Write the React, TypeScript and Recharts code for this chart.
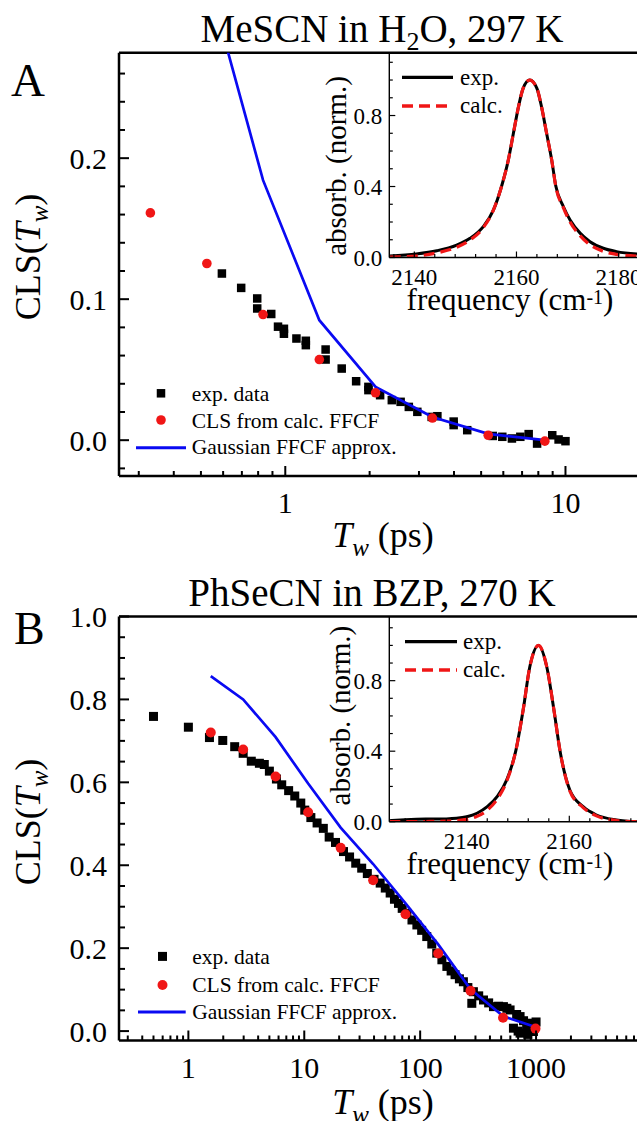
import React from 'react';
import { ComposedChart, Line, Scatter, XAxis, YAxis, ReferenceLine, Legend } from 'recharts';

const FONT = '"Liberation Serif", "Times New Roman", Times, serif';
const BLUE = '#0a0af2';
const RED = '#f01616';

// ---------- Panel A : MeSCN in H2O ----------
const A_EXP_T = [0.594, 0.696, 0.794, 0.794, 0.891, 0.942, 0.989, 0.989, 1.096, 1.184, 1.184, 1.393, 1.393, 1.59, 1.79, 1.98, 1.98, 2.18, 2.4, 2.58, 2.76, 2.96, 3.33, 3.49, 3.99, 3.99, 4.46, 5.5, 5.95, 6.44, 6.9, 7.39, 7.92, 8.97, 9.45, 10.0];
const A_EXP_CLS = [0.1182, 0.108, 0.1005, 0.0934, 0.0895, 0.0805, 0.079, 0.0755, 0.0721, 0.0705, 0.0674, 0.0643, 0.0572, 0.0508, 0.0418, 0.0378, 0.0355, 0.0319, 0.0284, 0.0272, 0.0236, 0.0201, 0.0165, 0.017, 0.0132, 0.0107, 0.0071, 0.003, 0.0024, 0.0012, 0.0024, 0.0043, -0.0024, 0.0035, 0.0005, -0.0007];
const A_CALC_T = [0.33, 0.525, 0.833, 1.323, 2.1, 3.35, 5.3, 8.44];
const A_CALC_CLS = [0.1612, 0.1253, 0.0891, 0.0572, 0.0336, 0.0157, 0.0035, -0.0007];
const A_GAUSS_T = [0.33, 0.525, 0.833, 1.323, 2.1, 3.35, 5.3, 8.44];
const A_GAUSS_CLS = [0.52, 0.33, 0.1844, 0.0851, 0.0378, 0.0165, 0.0045, 0.0];

const A_X_TICKS = [0.3, 0.4, 0.5, 0.6, 0.7, 0.8, 0.9, 1, 2, 3, 4, 5, 6, 7, 8, 9, 10];
const A_X_MAJOR = [1, 10];
const A_Y_TICKS = [-0.02, 0, 0.02, 0.04, 0.06, 0.08, 0.1, 0.12, 0.14, 0.16, 0.18, 0.2, 0.22, 0.24, 0.26];
const A_Y_MAJOR = [0, 0.1, 0.2];

const A_FREQ = [2135.2, 2140.4, 2144.4, 2148.3, 2150.9, 2153.5, 2155.5, 2157.1, 2158.4, 2159.4, 2160.4, 2161.3, 2162.6, 2164.0, 2164.9, 2165.9, 2166.9, 2167.7, 2169.2, 2170.5, 2172.5, 2174.4, 2177.0, 2179.6, 2183.6];
const A_ABS_EXP = [0.008, 0.02, 0.038, 0.07, 0.108, 0.174, 0.268, 0.403, 0.549, 0.7, 0.85, 0.953, 1.0, 0.953, 0.85, 0.7, 0.549, 0.403, 0.286, 0.211, 0.136, 0.089, 0.052, 0.033, 0.02];
const A_ABS_CALC = [0.002, 0.008, 0.026, 0.058, 0.098, 0.168, 0.268, 0.403, 0.549, 0.7, 0.85, 0.953, 1.0, 0.953, 0.85, 0.7, 0.549, 0.4, 0.28, 0.2, 0.122, 0.072, 0.035, 0.018, 0.008];
const A_IN_X_TICKS = [2136, 2140, 2144, 2148, 2152, 2156, 2160, 2164, 2168, 2172, 2176, 2180];
const A_IN_X_MAJOR = [2140, 2160, 2180];

// ---------- Panel B : PhSeCN in BZP ----------
const B_EXP_T = [0.5, 1.0, 1.52, 1.98, 2.51, 2.97, 3.49, 4.1, 4.52, 5.0, 5.75, 6.39, 7.33, 8.28, 9.33, 10.1, 11.4, 12.9, 14.6, 16.4, 18.6, 21.8, 24.6, 27.8, 31.3, 35, 40, 45.2, 50, 55.1, 60, 65, 70, 76.8, 85, 93.7, 103, 114, 126, 139, 154, 170, 185, 200, 218, 236, 258, 279, 288, 320, 352, 390, 429, 475, 523, 560, 597, 638, 680, 700, 728, 728, 780, 830, 850, 889, 949, 1000];
const B_EXP_CLS = [0.759, 0.733, 0.708, 0.701, 0.686, 0.67, 0.651, 0.646, 0.643, 0.627, 0.608, 0.594, 0.58, 0.567, 0.55, 0.533, 0.515, 0.502, 0.489, 0.468, 0.455, 0.433, 0.42, 0.405, 0.393, 0.38, 0.366, 0.357, 0.345, 0.333, 0.318, 0.308, 0.296, 0.284, 0.268, 0.256, 0.243, 0.228, 0.21, 0.188, 0.172, 0.156, 0.145, 0.136, 0.126, 0.119, 0.105, 0.067, 0.095, 0.085, 0.075, 0.068, 0.059, 0.06, 0.059, 0.055, 0.051, 0.007, 0.04, 0.0, 0.035, -0.005, 0.025, 0.01, -0.008, 0.019, -0.001, 0.022];
const B_CALC_T = [1.56, 2.97, 5.66, 10.8, 20.6, 39.3, 74.8, 143, 272, 519, 989];
const B_CALC_CLS = [0.72, 0.679, 0.614, 0.528, 0.442, 0.364, 0.282, 0.187, 0.097, 0.032, 0.006];
const B_GAUSS_T = [1.56, 2.97, 5.66, 10.8, 20.6, 39.3, 74.8, 143, 272, 519, 989];
const B_GAUSS_CLS = [0.856, 0.8, 0.709, 0.597, 0.491, 0.403, 0.308, 0.209, 0.101, 0.036, 0.01];

const B_X_TICKS = [0.3, 0.4, 0.5, 0.6, 0.7, 0.8, 0.9, 1, 2, 3, 4, 5, 6, 7, 8, 9, 10, 20, 30, 40, 50, 60, 70, 80, 90, 100, 200, 300, 400, 500, 600, 700, 800, 900, 1000, 2000, 3000, 4000, 5000, 6000, 7000];
const B_X_MAJOR = [1, 10, 100, 1000];
const B_Y_TICKS = [0, 0.05, 0.1, 0.15, 0.2, 0.25, 0.3, 0.35, 0.4, 0.45, 0.5, 0.55, 0.6, 0.65, 0.7, 0.75, 0.8, 0.85, 0.9, 0.95, 1.0];
const B_Y_MAJOR = [0, 0.2, 0.4, 0.6, 0.8, 1.0];

const B_FREQ = [2124.9, 2128, 2132, 2136, 2138, 2140, 2142, 2144, 2146, 2147.8, 2149.55, 2151.0, 2152.3, 2154.0, 2155.6, 2157.0, 2158.2, 2160.1, 2162.7, 2165.3, 2169.2, 2173.2];
const B_ABS_EXP = [0.006, 0.011, 0.015, 0.016, 0.019, 0.028, 0.048, 0.085, 0.145, 0.237, 0.4, 0.634, 0.879, 1.0, 0.879, 0.634, 0.4, 0.18, 0.085, 0.038, 0.01, 0.0];
const B_ABS_CALC = [0.0, 0.0, 0.001, 0.003, 0.006, 0.013, 0.03, 0.065, 0.13, 0.23, 0.4, 0.634, 0.879, 1.0, 0.879, 0.634, 0.4, 0.175, 0.08, 0.033, 0.007, 0.0];
const B_IN_X_TICKS = [2128, 2132, 2136, 2140, 2144, 2148, 2152, 2156, 2160, 2164, 2168, 2172];
const B_IN_X_MAJOR = [2140, 2160];

const IN_Y_TICKS = [0, 0.1, 0.2, 0.3, 0.4, 0.5, 0.6, 0.7, 0.8, 0.9, 1.0, 1.1];
const IN_Y_MAJOR = [0, 0.4, 0.8];

const MAIN_LEGEND = ['exp. data', 'CLS from calc. FFCF', 'Gaussian FFCF approx.'];
const INSET_LEGEND = ['exp.', 'calc.'];

type Pt = { x: number; y: number };
const zip = (xs: number[], ys: number[]): Pt[] => xs.map((x, i) => ({ x, y: ys[i] }));

const xTick = (majors: number[], fmt: (v: number) => string, majLen: number, minLen: number, sw: number, fs: number, dy: number) => (p: any) => {
  const { x, y, payload } = p;
  const v = payload.value;
  const major = majors.indexOf(v) >= 0;
  return (
    <g>
      <line x1={x} x2={x} y1={y} y2={y - (major ? majLen : minLen)} stroke="#000" strokeWidth={sw} />
      {major && (
        <text x={x} y={y + dy} textAnchor="middle" fontFamily={FONT} fontSize={fs} fill="#000">{fmt(v)}</text>
      )}
    </g>
  );
};

const yTick = (majors: number[], fmt: (v: number) => string, majLen: number, minLen: number, sw: number, fs: number, gap: number) => (p: any) => {
  const { x, y, payload } = p;
  const v = payload.value;
  const major = majors.indexOf(v) >= 0;
  return (
    <g>
      <line x1={x} x2={x + (major ? majLen : minLen)} y1={y} y2={y} stroke="#000" strokeWidth={sw} />
      {major && (
        <text x={x - gap} y={y} dy="0.35em" textAnchor="end" fontFamily={FONT} fontSize={fs} fill="#000">{fmt(v)}</text>
      )}
    </g>
  );
};

const squareShape = (s: number) => (p: any) => {
  if (p.cx == null || p.cy == null) return <g />;
  return <rect x={p.cx - s / 2} y={p.cy - s / 2} width={s} height={s} fill="#000" />;
};
const circleShape = (r: number) => (p: any) => {
  if (p.cx == null || p.cy == null) return <g />;
  return <circle cx={p.cx} cy={p.cy} r={r} fill={RED} />;
};

type LegPos = { sqX: number; sqY: number; circY: number; lx1: number; lx2: number; ly: number; tx: number; b: number[]; sq: number; r: number };
const mainLegend = (pos: LegPos, w: number, h: number) => () => (
  <svg width={w} height={h} style={{ position: 'absolute', left: 0, top: 0, overflow: 'visible' }}>
    <rect x={pos.sqX - pos.sq / 2} y={pos.sqY - pos.sq / 2} width={pos.sq} height={pos.sq} fill="#000" />
    <circle cx={pos.sqX} cy={pos.circY} r={pos.r} fill={RED} />
    <line x1={pos.lx1} x2={pos.lx2} y1={pos.ly} y2={pos.ly} stroke={BLUE} strokeWidth={3} />
    {MAIN_LEGEND.map((t, i) => (
      <text key={t} x={pos.tx} y={pos.b[i]} fontFamily={FONT} fontSize={21.5} fill="#000">{t}</text>
    ))}
  </svg>
);

type InLegPos = { lx1: number; lx2: number; y1: number; y2: number; tx: number; b1: number; b2: number };
const insetLegend = (pos: InLegPos, w: number, h: number) => () => (
  <svg width={w} height={h} style={{ position: 'absolute', left: 0, top: 0, overflow: 'visible' }}>
    <line x1={pos.lx1} x2={pos.lx2} y1={pos.y1} y2={pos.y1} stroke="#000" strokeWidth={3.2} />
    <line x1={pos.lx1} x2={pos.lx2} y1={pos.y2} y2={pos.y2} stroke={RED} strokeWidth={3.4} strokeDasharray="11 6" />
    <text x={pos.tx} y={pos.b1} fontFamily={FONT} fontSize={23} fill="#000">{INSET_LEGEND[0]}</text>
    <text x={pos.tx} y={pos.b2} fontFamily={FONT} fontSize={23} fill="#000">{INSET_LEGEND[1]}</text>
  </svg>
);

type PanelProps = {
  top: number; height: number;
  mTop: number; mBottom: number;
  xDomain: [number, number]; yDomain: [number, number];
  xTicks: number[]; xMajor: number[]; yTicks: number[]; yMajor: number[];
  exp: Pt[]; calc: Pt[]; gauss: Pt[]; sq: number; r: number;
  leg: LegPos;
  iTop: number; iBottom: number; iXDomain: [number, number]; iYDomain: [number, number];
  iXTicks: number[]; iXMajor: number[]; absExp: Pt[]; absCalc: Pt[]; iLeg: InLegPos;
  children?: React.ReactNode;
};

const Panel = (p: PanelProps) => {
  const W = 637;
  const axisMain = { stroke: '#000', strokeWidth: 2.5 };
  const axisIn = { stroke: '#000', strokeWidth: 1.4 };
  return (
    <div style={{ position: 'absolute', left: 0, top: p.top, width: W, height: p.height }}>
      <div style={{ position: 'absolute', left: 0, top: 0 }}>
        <ComposedChart width={W} height={p.height} margin={{ top: p.mTop, right: 0, bottom: p.mBottom, left: 59 }}>
          <XAxis dataKey="x" type="number" scale="log" domain={p.xDomain} allowDataOverflow ticks={p.xTicks} interval={0}
            tickSize={0} tickMargin={0} tickLine={false} axisLine={axisMain} height={40}
            tick={xTick(p.xMajor, (v) => String(v), 10, 5, 2, 30, 37)} />
          <YAxis dataKey="y" type="number" domain={p.yDomain} allowDataOverflow ticks={p.yTicks} interval={0}
            tickSize={0} tickMargin={0} tickLine={false} axisLine={axisMain} width={60}
            tick={yTick(p.yMajor, (v) => v.toFixed(1), 10, 6, 2, 30, 12)} />
          <ReferenceLine y={p.yDomain[1]} stroke="#000" strokeWidth={2.5} />
          <Scatter data={p.exp} shape={squareShape(p.sq)} isAnimationActive={false} zIndex={500} />
          <Line data={p.gauss} dataKey="y" type="linear" stroke={BLUE} strokeWidth={2.7} dot={false} isAnimationActive={false} zIndex={550} />
          <Scatter data={p.calc} shape={circleShape(p.r)} isAnimationActive={false} zIndex={600} />
          <Legend layout="horizontal" verticalAlign="middle" align="center" content={mainLegend(p.leg, W, p.height)}
            wrapperStyle={{ position: 'absolute', left: 0, top: 0, width: W, height: p.height }} />
        </ComposedChart>
      </div>
      <div style={{ position: 'absolute', left: 0, top: 0 }}>
        <ComposedChart width={W} height={300} margin={{ top: p.iTop, right: 0, bottom: 300 - 30 - p.iBottom, left: 349.3 }}>
          <XAxis dataKey="x" type="number" domain={p.iXDomain} allowDataOverflow ticks={p.iXTicks} interval={0}
            tickSize={0} tickMargin={0} tickLine={false} axisLine={axisIn} height={30}
            tick={xTick(p.iXMajor, (v) => String(v), 6, 3.5, 1.2, 23, 27)} />
          <YAxis dataKey="y" type="number" domain={p.iYDomain} allowDataOverflow ticks={IN_Y_TICKS} interval={0}
            tickSize={0} tickMargin={0} tickLine={false} axisLine={axisIn} width={40}
            tick={yTick(IN_Y_MAJOR, (v) => v.toFixed(1), 6, 3.5, 1.2, 23, 7)} />
          <Line data={p.absExp} dataKey="y" type="monotone" stroke="#000" strokeWidth={3} dot={false} isAnimationActive={false} />
          <Line data={p.absCalc} dataKey="y" type="monotone" stroke={RED} strokeWidth={3.2} strokeDasharray="11 6" dot={false} isAnimationActive={false} />
          <Legend layout="horizontal" verticalAlign="middle" align="center" content={insetLegend(p.iLeg, W, 300)}
            wrapperStyle={{ position: 'absolute', left: 0, top: 0, width: W, height: 300 }} />
        </ComposedChart>
      </div>
      <svg width={W} height={p.height} style={{ position: 'absolute', left: 0, top: 0, pointerEvents: 'none' }}>
        {p.children}
      </svg>
    </div>
  );
};

export default function App() {
  return (
    <div style={{ position: 'absolute', left: 0, top: 0, width: 637, height: 1121, background: '#fff', overflow: 'hidden' }}>
      <Panel
        top={0} height={560} mTop={52.7} mBottom={44}
        xDomain={[0.255, 18]} yDomain={[-0.0254, 0.2748]}
        xTicks={A_X_TICKS} xMajor={A_X_MAJOR} yTicks={A_Y_TICKS} yMajor={A_Y_MAJOR}
        exp={zip(A_EXP_T, A_EXP_CLS)} calc={zip(A_CALC_T, A_CALC_CLS)} gauss={zip(A_GAUSS_T, A_GAUSS_CLS)} sq={8.5} r={4.8}
        leg={{ sqX: 161, sqY: 393.3, circY: 420, lx1: 136, lx2: 186, ly: 447.7, tx: 191.7, b: [400.7, 427.7, 454.3], sq: 8.5, r: 4.8 }}
        iTop={52.7} iBottom={257.5} iXDomain={[2135.1, 2183.6]} iYDomain={[0, 1.154]}
        iXTicks={A_IN_X_TICKS} iXMajor={A_IN_X_MAJOR} absExp={zip(A_FREQ, A_ABS_EXP)} absCalc={zip(A_FREQ, A_ABS_CALC)}
        iLeg={{ lx1: 402, lx2: 453, y1: 77.3, y2: 106, tx: 460, b1: 85, b2: 113.3 }}
      >
        <text x={382} y={42} textAnchor="middle" fontFamily={FONT} fontSize={39} fill="#000">
          MeSCN in H<tspan fontSize={26} dy={8}>2</tspan><tspan dy={-8}>O, 297 K</tspan>
        </text>
        <text x={11} y={96.4} fontFamily={FONT} fontSize={47} fill="#000">A</text>
        <text transform="translate(40,257) rotate(-90)" textAnchor="middle" fontFamily={FONT} fontSize={36} fill="#000">
          CLS(<tspan fontStyle="italic">T</tspan><tspan fontStyle="italic" fontSize={25} dy={8}>w</tspan><tspan dy={-8}>)</tspan>
        </text>
        <text x={383} y={547} textAnchor="middle" fontFamily={FONT} fontSize={36} fill="#000">
          <tspan fontStyle="italic">T</tspan><tspan fontStyle="italic" fontSize={25} dy={9}>w</tspan><tspan dy={-9}> (ps)</tspan>
        </text>
        <text transform="translate(346,166) rotate(-90)" textAnchor="middle" fontFamily={FONT} fontSize={29} fill="#000">absorb. (norm.)</text>
        <text x={510} y={309.5} textAnchor="middle" fontFamily={FONT} fontSize={31} fill="#000">
          frequency (cm<tspan fontSize={20} dy={-6}>-1</tspan><tspan dy={6}>)</tspan>
        </text>
      </Panel>
      <Panel
        top={560} height={561} mTop={56.5} mBottom={40.5}
        xDomain={[0.252, 7430]} yDomain={[-0.0227, 1.0]}
        xTicks={B_X_TICKS} xMajor={B_X_MAJOR} yTicks={B_Y_TICKS} yMajor={B_Y_MAJOR}
        exp={zip(B_EXP_T, B_EXP_CLS)} calc={zip(B_CALC_T, B_CALC_CLS)} gauss={zip(B_GAUSS_T, B_GAUSS_CLS)} sq={9} r={5}
        leg={{ sqX: 162.5, sqY: 396.4, circY: 425, lx1: 138, lx2: 185.7, ly: 451.9, tx: 192.2, b: [403.7, 432.3, 459], sq: 9, r: 5 }}
        iTop={56.5} iBottom={261.7} iXDomain={[2124.9, 2173.2]} iYDomain={[0, 1.164]}
        iXTicks={B_IN_X_TICKS} iXMajor={B_IN_X_MAJOR} absExp={zip(B_FREQ, B_ABS_EXP)} absCalc={zip(B_FREQ, B_ABS_CALC)}
        iLeg={{ lx1: 405, lx2: 457, y1: 81.7, y2: 110, tx: 463, b1: 89, b2: 117.3 }}
      >
        <text x={372} y={45.8} textAnchor="middle" fontFamily={FONT} fontSize={39} fill="#000">PhSeCN in BZP, 270 K</text>
        <text x={14} y={84} fontFamily={FONT} fontSize={46} fill="#000">B</text>
        <text transform="translate(40,262) rotate(-90)" textAnchor="middle" fontFamily={FONT} fontSize={36} fill="#000">
          CLS(<tspan fontStyle="italic">T</tspan><tspan fontStyle="italic" fontSize={25} dy={8}>w</tspan><tspan dy={-8}>)</tspan>
        </text>
        <text x={383} y={554} textAnchor="middle" fontFamily={FONT} fontSize={36} fill="#000">
          <tspan fontStyle="italic">T</tspan><tspan fontStyle="italic" fontSize={25} dy={9}>w</tspan><tspan dy={-9}> (ps)</tspan>
        </text>
        <text transform="translate(350,155.6) rotate(-90)" textAnchor="middle" fontFamily={FONT} fontSize={29} fill="#000">absorb. (norm.)</text>
        <text x={510} y={313.5} textAnchor="middle" fontFamily={FONT} fontSize={31} fill="#000">
          frequency (cm<tspan fontSize={20} dy={-6}>-1</tspan><tspan dy={6}>)</tspan>
        </text>
      </Panel>
    </div>
  );
}
